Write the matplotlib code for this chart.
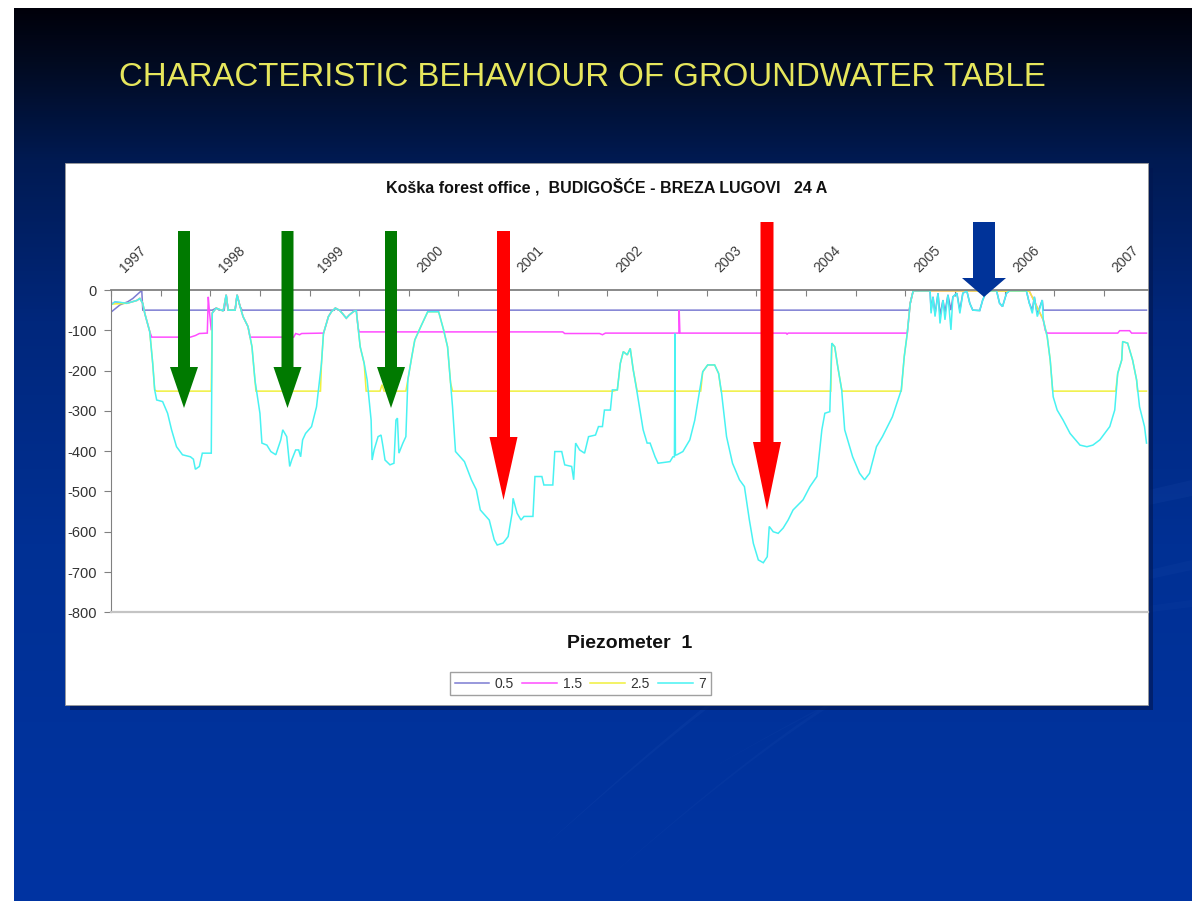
import numpy as np
import matplotlib
matplotlib.use("Agg")
import matplotlib.pyplot as plt
from matplotlib.patches import Rectangle, Polygon
from matplotlib.transforms import blended_transform_factory
from matplotlib.colors import to_rgb

plt.rcParams['font.family'] = ['Liberation Sans', 'DejaVu Sans']
plt.rcParams['axes.unicode_minus'] = False

# ---------------- data (decimal year, level in cm) ----------------
d_07 = np.array([
    (1996.75, -37), (1996.79, -29), (1996.91, -33), (1997.01, -26), (1997.04, -21), (1997.07, -33),
    (1997.09, -58), (1997.14, -103), (1997.17, -182), (1997.19, -248), (1997.21, -273), (1997.27, -277),
    (1997.32, -306), (1997.36, -347), (1997.41, -389), (1997.47, -409), (1997.55, -414), (1997.58, -420),
    (1997.60, -445), (1997.64, -438), (1997.67, -405), (1997.76, -405), (1997.77, -57), (1997.81, -45),
    (1997.88, -52), (1997.91, -12), (1997.93, -50), (1998.00, -50), (1998.02, -12), (1998.05, -41),
    (1998.08, -66), (1998.13, -91), (1998.17, -141), (1998.20, -224), (1998.25, -306), (1998.27, -380),
    (1998.32, -385), (1998.36, -401), (1998.41, -409), (1998.46, -372), (1998.48, -347), (1998.52, -364),
    (1998.55, -438), (1998.57, -422), (1998.61, -397), (1998.64, -397), (1998.66, -414), (1998.68, -372),
    (1998.71, -356), (1998.77, -339), (1998.82, -290), (1998.87, -182), (1998.89, -108), (1998.94, -66),
    (1998.97, -54), (1999.01, -45), (1999.05, -50), (1999.08, -58), (1999.12, -70), (1999.15, -62),
    (1999.19, -54), (1999.22, -50), (1999.26, -141), (1999.30, -182), (1999.33, -223), (1999.37, -323),
    (1999.38, -422), (1999.40, -397), (1999.44, -364), (1999.47, -360), (1999.49, -389), (1999.51, -422),
    (1999.56, -434), (1999.60, -430), (1999.62, -323), (1999.635, -318), (1999.65, -405), (1999.69, -380),
    (1999.72, -364), (1999.74, -223), (1999.78, -165), (1999.81, -124), (1999.87, -91), (1999.94, -54),
    (2000.05, -54), (2000.10, -99), (2000.14, -141), (2000.19, -290), (2000.22, -401), (2000.31, -426),
    (2000.38, -471), (2000.43, -496), (2000.47, -546), (2000.56, -571), (2000.61, -620), (2000.64, -633),
    (2000.70, -628), (2000.75, -612), (2000.79, -554), (2000.80, -517), (2000.84, -554), (2000.88, -571),
    (2000.91, -562), (2001.00, -562), (2001.02, -463), (2001.09, -463), (2001.11, -484), (2001.20, -484),
    (2001.22, -401), (2001.29, -401), (2001.32, -434), (2001.39, -438), (2001.41, -471), (2001.43, -380),
    (2001.47, -397), (2001.52, -405), (2001.56, -364), (2001.63, -360), (2001.66, -339), (2001.70, -339),
    (2001.72, -298), (2001.78, -298), (2001.80, -248), (2001.85, -248), (2001.88, -182), (2001.91, -153),
    (2001.95, -161), (2001.98, -145), (2002.01, -198), (2002.05, -256), (2002.11, -347), (2002.15, -380),
    (2002.18, -380), (2002.23, -414), (2002.26, -430), (2002.38, -426), (2002.41, -414), (2002.425, -414),
    (2002.43, -108), (2002.435, -410), (2002.45, -409), (2002.51, -401), (2002.58, -372), (2002.63, -323),
    (2002.68, -248), (2002.71, -203), (2002.76, -186), (2002.83, -186), (2002.87, -207), (2002.90, -256),
    (2002.95, -364), (2003.01, -430), (2003.08, -471), (2003.13, -488), (2003.18, -571), (2003.22, -629),
    (2003.27, -670), (2003.32, -677), (2003.36, -662), (2003.38, -587), (2003.42, -600), (2003.47, -604),
    (2003.52, -591), (2003.57, -571), (2003.62, -546), (2003.72, -521), (2003.79, -488), (2003.86, -463),
    (2003.91, -347), (2003.94, -306), (2003.99, -302), (2004.01, -132), (2004.04, -141), (2004.07, -190),
    (2004.11, -248), (2004.14, -347), (2004.22, -414), (2004.29, -455), (2004.34, -471), (2004.39, -455),
    (2004.46, -389), (2004.52, -364), (2004.62, -315), (2004.71, -248), (2004.74, -165), (2004.77, -108),
    (2004.80, -33), (2004.83, -2), (2005.00, -2), (2005.01, -58), (2005.03, -17), (2005.05, -66),
    (2005.08, -8), (2005.10, -83), (2005.13, -25), (2005.15, -74), (2005.18, -12), (2005.21, -99),
    (2005.23, -17), (2005.27, -8), (2005.30, -58), (2005.33, -8), (2005.37, -2), (2005.40, -33),
    (2005.43, -50), (2005.50, -51), (2005.53, -25), (2005.57, -2), (2005.67, -2), (2005.70, -33),
    (2005.73, -41), (2005.77, -8), (2005.80, -2), (2005.97, -2), (2006.00, -33), (2006.03, -58),
    (2006.05, -17), (2006.08, -66), (2006.13, -25), (2006.14, -74), (2006.18, -116), (2006.21, -174),
    (2006.24, -265), (2006.28, -298), (2006.34, -323), (2006.41, -356), (2006.51, -385), (2006.58, -389),
    (2006.64, -385), (2006.71, -372), (2006.81, -339), (2006.86, -298), (2006.89, -207), (2006.93, -174),
    (2006.94, -128), (2006.99, -132), (2007.04, -174), (2007.08, -223), (2007.11, -290), (2007.16, -339),
    (2007.18, -380),
])

d_25 = np.array([
    (1996.75, -35), (1996.91, -33), (1997.01, -26), (1997.04, -21), (1997.07, -33), (1997.09, -58),
    (1997.14, -103), (1997.17, -182), (1997.19, -248), (1997.21, -251), (1997.76, -251), (1997.77, -57),
    (1997.81, -45), (1997.88, -52), (1997.91, -12), (1997.93, -50), (1998.00, -50), (1998.02, -12),
    (1998.05, -41), (1998.08, -66), (1998.13, -91), (1998.17, -141), (1998.20, -224), (1998.21, -251),
    (1998.86, -251), (1998.87, -182), (1998.89, -108), (1998.94, -66), (1998.97, -54), (1999.01, -45),
    (1999.05, -50), (1999.08, -58), (1999.12, -70), (1999.15, -62), (1999.19, -54), (1999.22, -50),
    (1999.26, -141), (1999.30, -182), (1999.32, -251), (1999.46, -251), (1999.48, -235), (1999.50, -251),
    (1999.72, -251), (1999.74, -223), (1999.78, -165), (1999.81, -124), (1999.87, -91), (1999.94, -54),
    (2000.05, -54), (2000.10, -99), (2000.14, -141), (2000.17, -230), (2000.19, -251), (2001.81, -251),
    (2001.85, -248), (2001.88, -182), (2001.91, -153), (2001.95, -161), (2001.98, -145), (2002.01, -198),
    (2002.05, -251), (2002.69, -251), (2002.71, -203), (2002.76, -186), (2002.83, -186), (2002.87, -207),
    (2002.895, -251), (2004.00, -251), (2004.01, -132), (2004.04, -141), (2004.07, -190), (2004.11, -248),
    (2004.115, -251), (2004.71, -251), (2004.74, -165), (2004.77, -108), (2004.80, -33), (2004.83, -2),
    (2006.00, -3), (2006.14, -74), (2006.18, -116), (2006.21, -174), (2006.235, -251), (2006.87, -251),
    (2006.89, -207), (2006.93, -174), (2006.94, -128), (2006.99, -132), (2007.04, -174), (2007.08, -223),
    (2007.09, -251), (2007.18, -251),
])

d_15 = np.array([
    (1996.75, -35), (1996.79, -30), (1996.91, -33), (1997.01, -26), (1997.04, -21), (1997.07, -33),
    (1997.09, -58), (1997.14, -103), (1997.16, -117), (1997.55, -117), (1997.60, -113), (1997.64, -108),
    (1997.72, -107), (1997.73, -17), (1997.74, -50), (1997.76, -100), (1997.77, -57), (1997.81, -45),
    (1997.88, -52), (1997.91, -12), (1997.93, -50), (1998.00, -50), (1998.02, -12), (1998.05, -41),
    (1998.08, -66), (1998.13, -91), (1998.15, -117), (1998.59, -117), (1998.61, -108), (1998.65, -111),
    (1998.67, -108), (1998.88, -107), (1998.89, -108), (1998.94, -66), (1998.97, -54), (1999.01, -45),
    (1999.05, -50), (1999.08, -58), (1999.12, -70), (1999.15, -62), (1999.19, -54), (1999.22, -50),
    (1999.24, -95), (1999.25, -104), (2001.30, -104), (2001.32, -108), (2001.67, -108), (2001.70, -111),
    (2001.73, -107), (2002.47, -107), (2002.473, -50), (2002.48, -107), (2003.55, -107), (2003.56, -110),
    (2003.57, -107), (2004.76, -107), (2004.77, -108), (2004.80, -33), (2004.83, -2), (2006.00, -3),
    (2006.14, -74), (2006.16, -100), (2006.18, -107), (2006.89, -107), (2006.91, -101), (2007.01, -101),
    (2007.03, -107), (2007.18, -107),
])

d_05 = np.array([
    (1996.75, -55), (1996.84, -37), (1996.92, -29), (1996.97, -21), (1997.06, -1), (1997.07, -50),
    (1997.77, -50), (1997.81, -45), (1997.84, -50), (1997.89, -50), (1997.91, -12), (1997.93, -50),
    (1998.00, -50), (1998.02, -12), (1998.05, -41), (1998.07, -50), (1999.00, -50), (1999.01, -45),
    (1999.04, -50), (2004.79, -50), (2004.80, -33), (2004.83, -2), (2005.00, -2), (2005.01, -50),
    (2005.03, -17), (2005.05, -60), (2005.08, -8), (2005.10, -62), (2005.13, -25), (2005.15, -55),
    (2005.18, -12), (2005.21, -50), (2005.23, -17), (2005.27, -8), (2005.30, -50), (2005.33, -8),
    (2005.37, -2), (2005.40, -33), (2005.43, -50), (2005.50, -51), (2005.53, -25), (2005.57, -2),
    (2005.67, -2), (2005.70, -33), (2005.73, -41), (2005.77, -8), (2005.80, -2), (2005.97, -2),
    (2006.00, -33), (2006.03, -50), (2006.05, -17), (2006.08, -60), (2006.13, -25), (2006.14, -50),
    (2007.18, -50),
])

series_names = ['0.5', '1.5', '2.5', '7']
series_data = [d_05, d_15, d_25, d_07]
series_colors = ['#7C7CD2', '#FF4CFF', '#F0F03C', '#48F2F2']

years = list(range(1997, 2008))
y_ticks = list(range(0, -801, -100))
y_labels = [str(v) for v in y_ticks]

title = 'CHARACTERISTIC BEHAVIOUR OF GROUNDWATER TABLE'
chart_title = 'Koška forest office ,  BUDIGOŠĆE - BREZA LUGOVI   24 A'
x_title = 'Piezometer  1'

# ---------------- figure / slide ----------------
W, H = 1192, 901
fig = plt.figure(figsize=(W / 100, H / 100), dpi=100)
fig.patch.set_facecolor('white')


def fx(px):
    return px / W


def fy(py):
    return 1 - py / H


# slide background gradient
bg = fig.add_axes([fx(14), 0, 1 - fx(14), fy(8)])
bg.set_axis_off()
stops = [0.0, 0.06, 0.17, 0.35, 0.6, 1.0]
cols = ['#00000a', '#020a20', '#001a52', '#00277c', '#003094', '#0034a2']
rows = np.linspace(0, 1, 600)
rgb = np.array([to_rgb(c) for c in cols])
grad = np.stack([np.interp(rows, stops, rgb[:, i]) for i in range(3)], axis=-1)
bg.imshow(grad[:, None, :], aspect='auto', extent=[0, 1, 1, 0])
bg.set_xlim(0, 1)
bg.set_ylim(1, 0)

# decorative swooshes
ov = fig.add_axes([0, 0, 1, 1], zorder=1)
ov.set_axis_off()
ov.set_xlim(0, W)
ov.set_ylim(H, 0)
ov.patch.set_alpha(0)
t = np.linspace(0, 1, 80)
for (x0, y0, x1, y1, bow, thick, a) in [(540, 850, 1192, 480, 70, 16, 0.08),
                                       (600, 885, 1192, 560, 60, 10, 0.06),
                                       (700, 775, 1192, 600, 35, 7, 0.05)]:
    xs = x0 + (x1 - x0) * t
    ys = y0 + (y1 - y0) * t - bow * np.sin(np.pi * t)
    pts = np.concatenate([np.c_[xs, ys], np.c_[xs[::-1], ys[::-1] + thick * t[::-1]]])
    ov.add_patch(Polygon(pts, closed=True, facecolor='#4a78d0', edgecolor='none', alpha=a))

# chart panel with shadow
ov.add_patch(Rectangle((70, 168), 1148 - 65, 705 - 163, facecolor='#001650', edgecolor='none', alpha=0.6))
ov.add_patch(Rectangle((65, 163), 1148 - 65, 705 - 163, facecolor='white', edgecolor='#9a9a9a', linewidth=0.6))

# ---------------- chart axes ----------------
ax = fig.add_axes([fx(111), fy(612.3), fx(1147.5) - fx(111), (612.3 - 290) / H], zorder=2)
ax.set_facecolor('white')
for name, d, c in zip(series_names, series_data, series_colors):
    ax.plot(d[:, 0], d[:, 1], color=c, lw=1.1, label=name, solid_joinstyle='miter')

ax.set_xlim(1996.75, 2007.19)
ax.set_ylim(-800, 0)
ax.set_yticks(y_ticks)
ax.set_yticklabels(y_labels, fontsize=10.5, color='#333333')
ax.tick_params(axis='y', direction='out', length=5, color='#808080', pad=5)
ax.set_xticks(np.arange(1996.75, 2007.0, 0.5))
ax.tick_params(axis='x', which='both', bottom=False, top=True, labelbottom=False,
               labeltop=False, direction='in', length=4, color='#808080')
ax.spines['right'].set_visible(False)
ax.spines['left'].set_color('#808080')
ax.spines['top'].set_color('#808080')
ax.spines['top'].set_linewidth(1.3)
ax.spines['bottom'].set_color('#c4c4c4')
ax.spines['bottom'].set_linewidth(1.6)
ax.spines['top'].set_zorder(5)

tr = blended_transform_factory(ax.transData, ax.transAxes)
for yr in years:
    ax.text(yr - 0.03, 1.096, str(yr), transform=tr, rotation=45, ha='center', va='center',
            fontsize=10, color='#3a3a3a', clip_on=False)

# ---------------- arrows (slide annotations) ----------------
ov2 = fig.add_axes([0, 0, 1, 1], zorder=3)
ov2.set_axis_off()
ov2.set_xlim(0, W)
ov2.set_ylim(H, 0)
ov2.patch.set_alpha(0)


def arrow(c, y0, y1, y2, sw, hw, color):
    pts = [(c - sw, y0), (c + sw, y0), (c + sw, y1), (c + hw, y1), (c, y2), (c - hw, y1), (c - sw, y1)]
    ov2.add_patch(Polygon(pts, closed=True, facecolor=color, edgecolor='none'))


for c in (184, 287.5, 391):
    arrow(c, 231, 367, 408, 6, 14, '#007A00')
arrow(503.5, 231, 437, 500, 6.5, 14, '#FF0000')
arrow(767, 222, 442, 510, 6.5, 14, '#FF0000')
arrow(984, 222, 278, 297, 11, 22, '#003399')

# ---------------- texts ----------------
fig.text(fx(582.5), fy(78), title, color='#E6E65C', fontsize=23.8, ha='center', va='center', zorder=4)
fig.text(fx(606.5), fy(187), chart_title, color='#111111', fontsize=11.5, fontweight='bold',
         ha='center', va='center', zorder=4)
fig.text(fx(630), fy(643), x_title, color='#111111', fontsize=14, fontweight='bold',
         ha='center', va='center', zorder=4)

handles, labels = ax.get_legend_handles_labels()
leg = fig.legend(handles, labels, loc='center', bbox_to_anchor=(fx(580.4), fy(683.5)), ncol=4,
                 fontsize=10, frameon=True, fancybox=False, edgecolor='#888888', handlelength=2.5,
                 handletextpad=0.4, columnspacing=0.6, borderpad=0.35, labelcolor='#333333')
leg.get_frame().set_linewidth(1.0)
leg.set_zorder(6)

fig.savefig('out.png', dpi=100)
